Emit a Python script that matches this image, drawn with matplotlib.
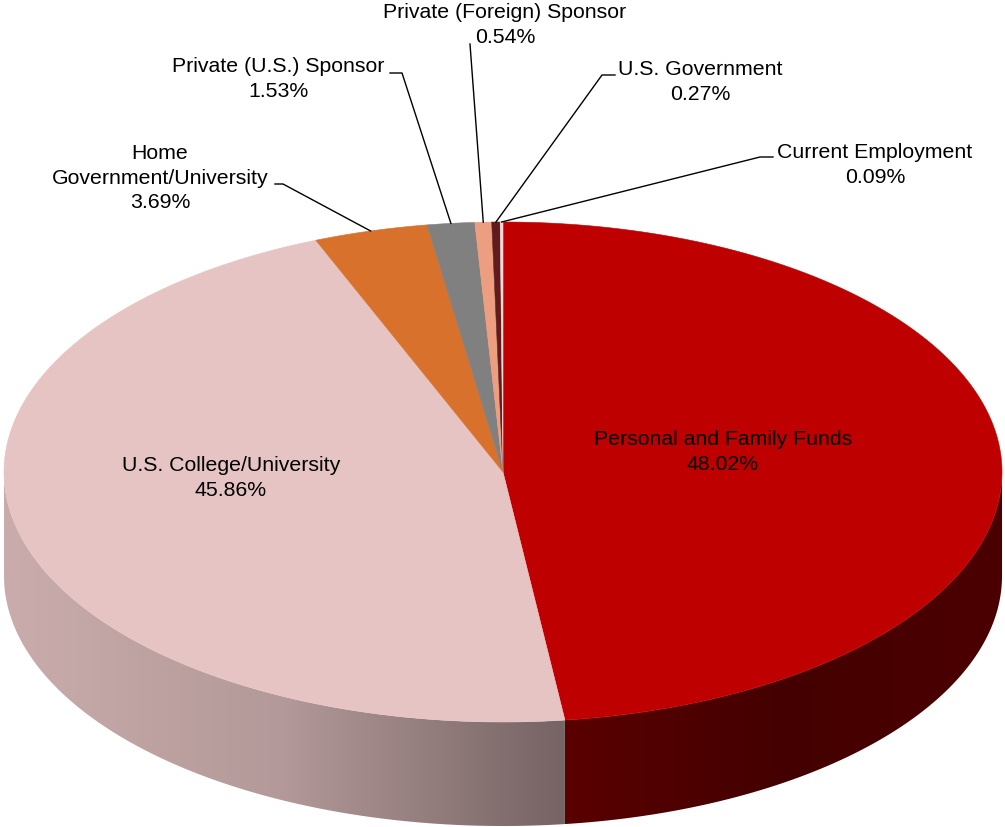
import matplotlib.pyplot as plt
import numpy as np
from matplotlib.patches import Polygon
from matplotlib.colors import LinearSegmentedColormap

plt.rcParams['font.family'] = ['Liberation Sans', 'DejaVu Sans']

sources = ['Personal and Family Funds', 'U.S. College/University', 'Home\nGovernment/University',
           'Private (U.S.) Sponsor', 'Private (Foreign) Sponsor', 'U.S. Government', 'Current Employment']
shares = [48.02, 45.86, 3.69, 1.53, 0.54, 0.27, 0.09]
top_colors = ['#BF0000', '#E6C4C4', '#D7712B', '#808080', '#EE9E80', '#5E1C1C', '#F4D6D6']
side_colors = [['#5A0000', '#440000', '#4C0000'], ['#CAACAC', '#B39999', '#766363'],
               ['#8A4A1C'], ['#555555'], ['#A06A55'], ['#3A1010'], ['#A08C8C']]

# layout: pie ellipse in pixels, and where each label sits
cx, cy, rx, ry, depth = 503, 473, 499, 250, 104
inside = {0: (723, 452), 1: (231, 478)}
outside = {2: ((160, 178), (275, 185), (283, 185)),
           3: ((278, 79), (390, 74), (402, 74)),
           4: ((505, 25), (470, 45), (470, 45)),
           5: ((700, 82), (615, 76), (602, 76)),
           6: ((875, 165), (773, 158), (760, 158))}
fs = 15.3
ls = 1.35

fig = plt.figure(figsize=(10.05, 8.28), dpi=100)
ax = fig.add_axes([0, 0, 1, 1])
ax.set_xlim(0, 1005)
ax.set_ylim(828, 0)
ax.axis('off')


def rim(a0, a1, n=300):
    t = np.radians(np.linspace(a0, a1, n))
    return cx + rx * np.sin(t), cy - ry * np.cos(t)


bounds = np.concatenate([[0], np.cumsum(shares)]) / sum(shares) * 360

# side walls (front half only)
for i in range(len(shares)):
    a0, a1 = max(bounds[i], 90), min(bounds[i + 1], 270)
    if a1 <= a0:
        continue
    x, y = rim(a0, a1)
    xs = np.concatenate([x, x[::-1]])
    ys = np.concatenate([y, (y + depth)[::-1]])
    poly = Polygon(np.column_stack([xs, ys]), closed=True, facecolor='none', edgecolor='none')
    ax.add_patch(poly)
    cols = side_colors[i] if len(side_colors[i]) > 1 else side_colors[i] * 2
    cmap = LinearSegmentedColormap.from_list('side%d' % i, cols)
    grad = np.linspace(0, 1, 256).reshape(1, -1)
    im = ax.imshow(grad, cmap=cmap, aspect='auto', interpolation='bilinear',
                   extent=(xs.min(), xs.max(), ys.max(), ys.min()), zorder=1)
    im.set_clip_path(poly)

# top faces
for i in range(len(shares)):
    x, y = rim(bounds[i], bounds[i + 1])
    pts = np.column_stack([np.concatenate([[cx], x]), np.concatenate([[cy], y])])
    ax.add_patch(Polygon(pts, closed=True, facecolor=top_colors[i], edgecolor=top_colors[i],
                         linewidth=0.4, zorder=2))

# labels
for i, name in enumerate(sources):
    txt = '%s\n%.2f%%' % (name, shares[i])
    if i in inside:
        ax.text(*inside[i], txt, ha='center', va='center', fontsize=fs, linespacing=ls, zorder=4)
    else:
        (tx, ty), p0, p1 = outside[i]
        mid = np.radians((bounds[i] + bounds[i + 1]) / 2)
        anchor = (cx + rx * np.sin(mid), cy - ry * np.cos(mid))
        ax.plot([p0[0], p1[0], anchor[0]], [p0[1], p1[1], anchor[1]], color='black',
                linewidth=1, zorder=3)
        ax.text(tx, ty, txt, ha='center', va='center', fontsize=fs, linespacing=ls, zorder=4)

fig.savefig('out.png', dpi=100)
